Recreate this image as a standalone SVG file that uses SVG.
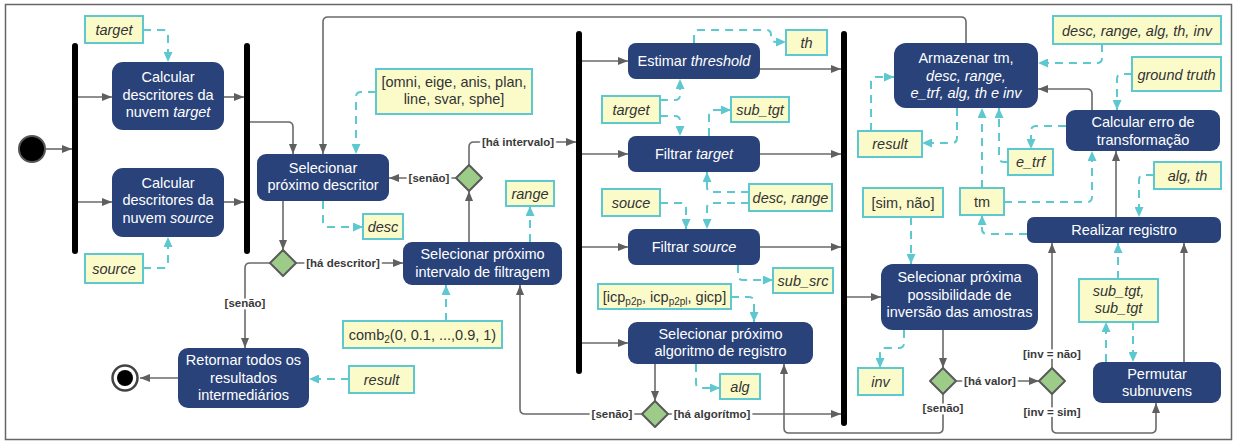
<svg xmlns="http://www.w3.org/2000/svg" width="1235" height="443" viewBox="0 0 1235 443">
  <style>
    text { font-family: "Liberation Sans", Arial, sans-serif; font-size: 14.5px; }
    .act rect { fill: #29427a; stroke: none; }
    .act text { fill: #ffffff; text-anchor: middle; }
    .note rect { fill: #fbfbca; stroke: #5ec8d0; stroke-width: 2; }
    .note text { fill: #333333; text-anchor: middle; }
    .it { font-style: italic; }
    .bar { fill: #000000; }
    .dec path { fill: #9dcb88; stroke: #5a5a5a; stroke-width: 2; stroke-linejoin: round; }
    .g { fill: none; stroke: #6a6a6a; stroke-width: 1.6; marker-end: url(#ag); }
    .gn { fill: none; stroke: #6a6a6a; stroke-width: 1.6; }
    .c { fill: none; stroke: #5ec8d0; stroke-width: 2; stroke-dasharray: 8 6; marker-end: url(#ac); }
    .lbl { font-size: 11.5px; font-weight: bold; fill: #3a3a3a; text-anchor: middle; paint-order: stroke; stroke: #ffffff; stroke-width: 5px; stroke-linejoin: round; }
    .sub { font-size: 10px; }
  </style>
  <defs>
    <marker id="ag" viewBox="0 0 10 8" refX="10" refY="4" markerWidth="10" markerHeight="8" markerUnits="userSpaceOnUse" orient="auto">
      <path d="M0,0 L10,4 L0,8 z" fill="#5f5f5f"/>
    </marker>
    <marker id="ac" viewBox="0 0 10 9" refX="10" refY="4.5" markerWidth="10" markerHeight="9" markerUnits="userSpaceOnUse" orient="auto">
      <path d="M0,0 L10,4.5 L0,9 z" fill="#5ec8d0"/>
    </marker>
  </defs>

  <!-- frame -->
  <rect x="5.5" y="4.5" width="1226" height="435" fill="#ffffff" stroke="#666666" stroke-width="1.5"/>

  <!-- control flow and object flow -->
  <g id="connectors">
    <!-- control flow -->
    <path class="g" d="M45.5,149 L72,149"/>
    <path class="g" d="M78,97 L112,97"/>
    <path class="g" d="M78,202 L112,202"/>
    <path class="g" d="M224,97 L244,97"/>
    <path class="g" d="M224,202 L244,202"/>
    <path class="g" d="M250,122 L288,122 Q293,122 293,127 L293,154"/>
    <path class="g" d="M966,43 L966,22 Q966,17 961,17 L328,17 Q323,17 323,22 L323,154"/>
    <path class="g" d="M283,201 L283,250"/>
    <path class="g" d="M296,263 L403,263"/>
    <path class="g" d="M270,263 L250,263 Q245,263 245,268 L245,348"/>
    <path class="g" d="M178,378 L140,378"/>
    <path class="g" d="M469,242 L469,191"/>
    <path class="g" d="M456,178 L389,178"/>
    <path class="g" d="M469,165 L469,147 Q469,142 474,142 L576,142"/>
    <path class="g" d="M582,61 L628,61"/>
    <path class="g" d="M582,154 L628,154"/>
    <path class="g" d="M582,247 L628,247"/>
    <path class="g" d="M582,343 L628,343"/>
    <path class="g" d="M760,69 L841,69"/>
    <path class="g" d="M760,154 L841,154"/>
    <path class="g" d="M760,247 L841,247"/>
    <path class="g" d="M655,364 L655,401"/>
    <path class="g" d="M668,414 L841,414"/>
    <path class="g" d="M642,414 L525,414 Q520,414 520,409 L520,285"/>
    <path class="g" d="M847,297 L881,297"/>
    <path class="g" d="M943,330 L943,368"/>
    <path class="g" d="M956,381 L1039,381"/>
    <path class="g" d="M943,394 L943,428 Q943,433 938,433 L789,433 Q784,433 784,428 L784,364"/>
    <path class="g" d="M1052,368 L1052,243"/>
    <path class="g" d="M1052,394 L1052,428 Q1052,433 1057,433 L1151,433 Q1156,433 1156,428 L1156,403"/>
    <path class="g" d="M1184,362 L1184,243"/>
    <path class="g" d="M1116,217 L1116,151"/>
    <path class="g" d="M1092,110 L1092,94 Q1092,89 1087,89 L1038,89"/>

    <!-- guard labels -->
    <text class="lbl" x="343" y="267">[há descritor]</text>
    <text class="lbl" x="245" y="307">[senão]</text>
    <text class="lbl" x="429" y="182">[senão]</text>
    <text class="lbl" x="518" y="146">[há intervalo]</text>
    <text class="lbl" x="612" y="418">[senão]</text>
    <text class="lbl" x="712" y="418">[há algorítmo]</text>
    <text class="lbl" x="990" y="385">[há valor]</text>
    <text class="lbl" x="943" y="412">[senão]</text>
    <text class="lbl" x="1052" y="358">[inv = não]</text>
    <text class="lbl" x="1052" y="416">[inv = sim]</text>

    <!-- object flow -->
    <path class="c" d="M143,30 L163,30 Q168,30 168,35 L168,62"/>
    <path class="c" d="M143,268 L163,268 Q168,268 168,263 L168,237"/>
    <path class="c" d="M376,92 L361,92 Q356,92 356,97 L356,154"/>
    <path class="c" d="M323,201 L323,222 Q323,227 328,227 L363,227"/>
    <path class="c" d="M446,321 L446,285"/>
    <path class="c" d="M530,242 L530,206"/>
    <path class="c" d="M349,379 L309,379"/>
    <path class="c" d="M694,43 L694,35 Q694,30 699,30 L766,30 Q771,30 771,35 L771,37 Q771,42 776,42 L786,42"/>
    <path class="c" d="M660,100 L675,100 Q680,100 680,95 L680,79"/>
    <path class="c" d="M660,116 L675,116 Q680,116 680,121 L680,136"/>
    <path class="c" d="M709,136 L709,115 Q709,110 714,110 L731,110"/>
    <path class="c" d="M749,192 L712,192 Q707,192 707,187 L707,172"/>
    <path class="c" d="M749,203 L712,203 Q707,203 707,208 L707,229"/>
    <path class="c" d="M660,203 L681,203 Q686,203 686,208 L686,229"/>
    <path class="c" d="M738,265 L738,275 Q738,280 743,280 L773,280"/>
    <path class="c" d="M731,297 L749,297 Q754,297 754,302 L754,322"/>
    <path class="c" d="M696,364 L696,383 Q696,388 701,388 L720,388"/>
    <path class="c" d="M1102,44 L1102,58 Q1102,63 1097,63 L1038,63"/>
    <path class="c" d="M1132,74 L1122,74 Q1117,74 1117,79 L1117,110"/>
    <path class="c" d="M1066,126 L1036,126 Q1031,126 1031,131 L1031,149"/>
    <path class="c" d="M1008,162 L1004,162 Q999,162 999,157 L999,108"/>
    <path class="c" d="M982,188 L982,108"/>
    <path class="c" d="M1004,202 L1087,202 Q1092,202 1092,197 L1092,151"/>
    <path class="c" d="M1027,234 L987,234 Q982,234 982,229 L982,215"/>
    <path class="c" d="M957,108 L957,138 Q957,143 952,143 L922,143"/>
    <path class="c" d="M871,131 L871,82 Q871,77 876,77 L894,77"/>
    <path class="c" d="M911,217 L911,264"/>
    <path class="c" d="M904,330 L904,343 Q904,348 899,348 L885,348 Q880,348 880,353 L880,368"/>
    <path class="c" d="M1154,175 L1144,175 Q1139,175 1139,180 L1139,217"/>
    <path class="c" d="M1118,279 L1118,243"/>
    <path class="c" d="M1106,362 L1106,322"/>
    <path class="c" d="M1133,322 L1133,362"/>
  </g>

  <!-- initial and final nodes -->
  <g id="start"><circle cx="32" cy="149" r="13" fill="#000000" stroke="#555555" stroke-width="2"/></g>
  <g id="end">
    <circle cx="125" cy="378" r="12.5" fill="#ffffff" stroke="#444444" stroke-width="2.5"/>
    <circle cx="125" cy="378" r="8" fill="#000000"/>
  </g>

  <!-- fork / join bars -->
  <g id="fork1"><rect class="bar" x="72" y="43" width="6" height="211" rx="3"/></g>
  <g id="join1"><rect class="bar" x="244" y="43" width="6" height="211" rx="3"/></g>
  <g id="fork2"><rect class="bar" x="576" y="31" width="6" height="343" rx="3"/></g>
  <g id="join2"><rect class="bar" x="841" y="31" width="6" height="395" rx="3"/></g>

  <!-- decision nodes -->
  <g id="dec-descritor" class="dec"><path d="M283,250 L296,263 L283,276 L270,263 Z"/></g>
  <g id="dec-intervalo" class="dec"><path d="M469,165 L482,178 L469,191 L456,178 Z"/></g>
  <g id="dec-algoritmo" class="dec"><path d="M655,401 L668,414 L655,427 L642,414 Z"/></g>
  <g id="dec-valor" class="dec"><path d="M943,368 L956,381 L943,394 L930,381 Z"/></g>
  <g id="dec-inv" class="dec"><path d="M1052,368 L1065,381 L1052,394 L1039,381 Z"/></g>

  <!-- actions -->
  <g id="calc-target" class="act">
    <rect x="112" y="62" width="112" height="68" rx="11"/>
    <text x="168" y="82">Calcular</text>
    <text x="168" y="99.5">descritores da</text>
    <text x="168" y="117">nuvem <tspan class="it">target</tspan></text>
  </g>
  <g id="calc-source" class="act">
    <rect x="112" y="168" width="112" height="69" rx="11"/>
    <text x="168" y="187.5">Calcular</text>
    <text x="168" y="205">descritores da</text>
    <text x="168" y="222.5">nuvem <tspan class="it">source</tspan></text>
  </g>
  <g id="sel-descritor" class="act">
    <rect x="257" y="154" width="132" height="47" rx="9"/>
    <text x="323" y="172.5">Selecionar</text>
    <text x="323" y="190">próximo descritor</text>
  </g>
  <g id="retornar" class="act">
    <rect x="178" y="348" width="131" height="60" rx="10"/>
    <text x="243.5" y="365">Retornar todos os</text>
    <text x="243.5" y="382.5">resultados</text>
    <text x="243.5" y="400">intermediários</text>
  </g>
  <g id="sel-intervalo" class="act">
    <rect x="403" y="242" width="159" height="43" rx="9"/>
    <text x="482.5" y="259">Selecionar próximo</text>
    <text x="482.5" y="276.5">intervalo de filtragem</text>
  </g>
  <g id="estimar" class="act">
    <rect x="628" y="43" width="132" height="36" rx="8"/>
    <text x="694" y="66">Estimar <tspan class="it">threshold</tspan></text>
  </g>
  <g id="filtrar-target" class="act">
    <rect x="628" y="136" width="132" height="36" rx="8"/>
    <text x="694" y="159">Filtrar <tspan class="it">target</tspan></text>
  </g>
  <g id="filtrar-source" class="act">
    <rect x="628" y="229" width="132" height="36" rx="8"/>
    <text x="694" y="252">Filtrar <tspan class="it">source</tspan></text>
  </g>
  <g id="sel-algoritmo" class="act">
    <rect x="628" y="322" width="185" height="42" rx="9"/>
    <text x="720.5" y="338.5">Selecionar próximo</text>
    <text x="720.5" y="356">algoritmo de registro</text>
  </g>
  <g id="armazenar" class="act">
    <rect x="894" y="43" width="144" height="65" rx="12"/>
    <text x="966" y="63">Armazenar tm,</text>
    <text x="966" y="80.5" class="it">desc, range,</text>
    <text x="966" y="98" class="it">e_trf, alg, th e inv</text>
  </g>
  <g id="calc-erro" class="act">
    <rect x="1066" y="110" width="154" height="41" rx="9"/>
    <text x="1143" y="127">Calcular erro de</text>
    <text x="1143" y="144.5">transformação</text>
  </g>
  <g id="realizar" class="act">
    <rect x="1027" y="217" width="194" height="26" rx="7"/>
    <text x="1124" y="235">Realizar registro</text>
  </g>
  <g id="sel-inversao" class="act">
    <rect x="881" y="264" width="157" height="66" rx="12"/>
    <text x="959.5" y="282">Selecionar próxima</text>
    <text x="959.5" y="299.5">possibilidade de</text>
    <text x="959.5" y="317">inversão das amostras</text>
  </g>
  <g id="permutar" class="act">
    <rect x="1093" y="362" width="128" height="41" rx="9"/>
    <text x="1157" y="378.5">Permutar</text>
    <text x="1157" y="396">subnuvens</text>
  </g>

  <!-- object notes -->
  <g id="obj-target-in" class="note">
    <rect x="85" y="16" width="58" height="27"/>
    <text x="114" y="35" class="it">target</text>
  </g>
  <g id="obj-source-in" class="note">
    <rect x="85" y="254" width="58" height="29"/>
    <text x="114" y="274" class="it">source</text>
  </g>
  <g id="obj-descritores" class="note">
    <rect x="376" y="69" width="156" height="45"/>
    <text x="454" y="86.5">[omni, eige, anis, plan,</text>
    <text x="454" y="104">line, svar, sphe]</text>
  </g>
  <g id="obj-desc" class="note">
    <rect x="363" y="214" width="40" height="25"/>
    <text x="383" y="232" class="it">desc</text>
  </g>
  <g id="obj-comb" class="note">
    <rect x="343" y="321" width="159" height="27"/>
    <text x="422.5" y="340">comb<tspan class="sub" dy="3">2</tspan><tspan dy="-3">(0, 0.1, ...,0.9, 1)</tspan></text>
  </g>
  <g id="obj-range" class="note">
    <rect x="506" y="181" width="48" height="25"/>
    <text x="530" y="199" class="it">range</text>
  </g>
  <g id="obj-result-out" class="note">
    <rect x="349" y="366" width="65" height="27"/>
    <text x="381.5" y="385" class="it">result</text>
  </g>
  <g id="obj-th" class="note">
    <rect x="786" y="30" width="41" height="25"/>
    <text x="806.5" y="48" class="it">th</text>
  </g>
  <g id="obj-target" class="note">
    <rect x="602" y="96" width="58" height="27"/>
    <text x="631" y="115" class="it">target</text>
  </g>
  <g id="obj-sub-tgt" class="note">
    <rect x="731" y="97" width="58" height="25"/>
    <text x="760" y="115" class="it">sub_tgt</text>
  </g>
  <g id="obj-desc-range" class="note">
    <rect x="749" y="184" width="83" height="27"/>
    <text x="790.5" y="203" class="it">desc, range</text>
  </g>
  <g id="obj-souce" class="note">
    <rect x="602" y="189" width="58" height="27"/>
    <text x="631" y="208" class="it">souce</text>
  </g>
  <g id="obj-sub-src" class="note">
    <rect x="773" y="268" width="60" height="25"/>
    <text x="803" y="286" class="it">sub_src</text>
  </g>
  <g id="obj-algoritmos" class="note">
    <rect x="598" y="284" width="133" height="25"/>
    <text x="664.5" y="301.5">[icp<tspan class="sub" dy="3">p2p</tspan><tspan dy="-3">, icp</tspan><tspan class="sub" dy="3">p2pl</tspan><tspan dy="-3">, gicp]</tspan></text>
  </g>
  <g id="obj-alg" class="note">
    <rect x="720" y="374" width="40" height="25"/>
    <text x="740" y="392" class="it">alg</text>
  </g>
  <g id="obj-params" class="note">
    <rect x="1053" y="16" width="168" height="28"/>
    <text x="1137" y="35.5" class="it">desc, range, alg, th, inv</text>
  </g>
  <g id="obj-ground-truth" class="note">
    <rect x="1132" y="57" width="89" height="34"/>
    <text x="1176.5" y="79.5" class="it">ground truth</text>
  </g>
  <g id="obj-e-trf" class="note">
    <rect x="1008" y="149" width="45" height="26"/>
    <text x="1030.5" y="167" class="it">e_trf</text>
  </g>
  <g id="obj-tm" class="note">
    <rect x="960" y="188" width="44" height="27"/>
    <text x="982" y="207">tm</text>
  </g>
  <g id="obj-result" class="note">
    <rect x="858" y="131" width="64" height="26"/>
    <text x="890" y="149" class="it">result</text>
  </g>
  <g id="obj-sim-nao" class="note">
    <rect x="863" y="188" width="80" height="29"/>
    <text x="903" y="208">[sim, não]</text>
  </g>
  <g id="obj-inv" class="note">
    <rect x="858" y="368" width="45" height="27"/>
    <text x="880.5" y="387" class="it">inv</text>
  </g>
  <g id="obj-alg-th" class="note">
    <rect x="1154" y="162" width="67" height="27"/>
    <text x="1187.5" y="181" class="it">alg, th</text>
  </g>
  <g id="obj-subnuvens" class="note">
    <rect x="1079" y="279" width="79" height="43"/>
    <text x="1118.5" y="295.5" class="it">sub_tgt,</text>
    <text x="1118.5" y="313" class="it">sub_tgt</text>
  </g>
</svg>
